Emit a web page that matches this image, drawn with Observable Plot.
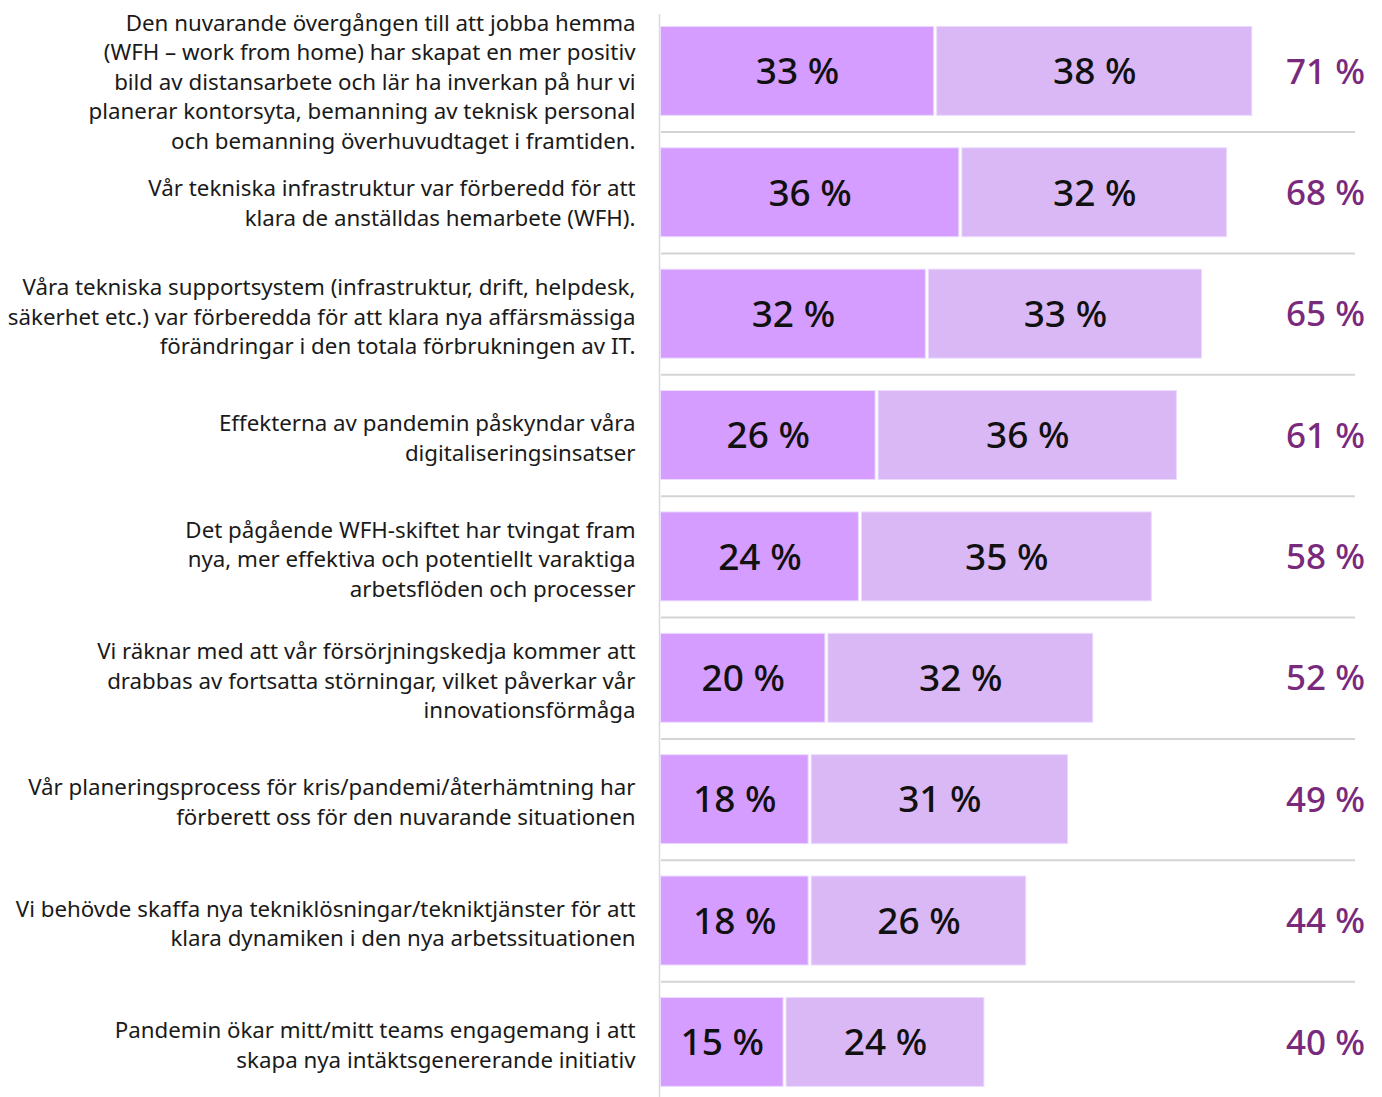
<!DOCTYPE html>
<html>
<head>
<meta charset="utf-8">
<script src="https://cdn.jsdelivr.net/npm/d3@7"></script>
<script src="https://cdn.jsdelivr.net/npm/@observablehq/plot@0.6"></script>
<style>
  html, body { margin: 0; padding: 0; background: #fff; }
  #chart svg { display: block; }
</style>
</head>
<body>
<div id="chart"></div>
<script>
const categories = [
  "Den nuvarande övergången till att jobba hemma\n(WFH – work from home) har skapat en mer positiv\nbild av distansarbete och lär ha inverkan på hur vi\nplanerar kontorsyta, bemanning av teknisk personal\noch bemanning överhuvudtaget i framtiden.",
  "Vår tekniska infrastruktur var förberedd för att\nklara de anställdas hemarbete (WFH).",
  "Våra tekniska supportsystem (infrastruktur, drift, helpdesk,\nsäkerhet etc.) var förberedda för att klara nya affärsmässiga\nförändringar i den totala förbrukningen av IT.",
  "Effekterna av pandemin påskyndar våra\ndigitaliseringsinsatser",
  "Det pågående WFH-skiftet har tvingat fram\nnya, mer effektiva och potentiellt varaktiga\narbetsflöden och processer",
  "Vi räknar med att vår försörjningskedja kommer att\ndrabbas av fortsatta störningar, vilket påverkar vår\ninnovationsförmåga",
  "Vår planeringsprocess för kris/pandemi/återhämtning har\nförberett oss för den nuvarande situationen",
  "Vi behövde skaffa nya tekniklösningar/tekniktjänster för att\nklara dynamiken i den nya arbetssituationen",
  "Pandemin ökar mitt/mitt teams engagemang i att\nskapa nya intäktsgenererande initiativ"
];
const seriesNames = ["Instämmer helt", "Instämmer delvis"];
const firstValues = [33, 36, 32, 26, 24, 20, 18, 18, 15];
const secondValues = [38, 32, 33, 36, 35, 32, 31, 26, 24];
const totals = [71, 68, 65, 61, 58, 52, 49, 44, 40];

const colors = ["#D59DFF", "#DAB8F5"];

const segments = [];
categories.forEach((c, i) => {
  segments.push({cat: c, series: seriesNames[0], value: firstValues[i]});
  segments.push({cat: c, series: seriesNames[1], value: secondValues[i]});
});
const rows = categories.map((c, i) => ({cat: c, total: totals[i], idx: i}));

const W = 1382, H = 1097;
const font = "'Noto Sans', 'Open Sans', sans-serif";
const labelStyle = {
  y: "cat", text: "cat", frameAnchor: "left", dx: -24,
  textAnchor: "end", lineAnchor: "middle", lineHeight: 1.32,
  fill: "#1a1a1a", fontSize: 22.3
};

const plot = Plot.plot({
  width: W,
  height: H,
  marginLeft: 659,
  marginRight: 0,
  marginTop: 14,
  marginBottom: 0,
  style: {fontFamily: font, background: "#fff"},
  x: {domain: [0, (W - 659) / 8.37], axis: null},
  y: {domain: categories, range: [10.2, 1102.6], paddingInner: 0.267, paddingOuter: 0.1335, round: false, axis: null},
  color: {domain: seriesNames, range: colors},
  marks: [
    Plot.ruleX([0], {stroke: "#d9d9d9", strokeWidth: 1.5}),
    Plot.ruleY(categories.slice(0, categories.length - 1), {
      y: d => d, dy: 60.7, stroke: "#d4d4d4", strokeWidth: 2, insetLeft: 2, insetRight: 27
    }),
    Plot.barX(segments, Plot.stackX({
      x: "value", y: "cat", fill: "series", insetLeft: 1.5, insetRight: 1.5,
      stroke: "#ecdcff", strokeWidth: 1, order: null
    })),
    Plot.text(segments, Plot.stackX({
      x: "value", y: "cat", text: d => `${d.value} %`, order: null,
      fill: "#111", fontSize: 37, fontWeight: 500, dy: 1
    })),
    Plot.text(rows, {
      y: "cat", text: d => `${d.total} %`, frameAnchor: "right", dx: -57,
      textAnchor: "middle", fill: "#7A2A7D", fontSize: 35, fontWeight: 500, dy: 1
    }),
    Plot.text(rows.filter(d => d.idx < 2), {...labelStyle, dy: 9}),
    Plot.text(rows.filter(d => d.idx >= 2), {...labelStyle, dy: 1})
  ]
});
document.getElementById("chart").appendChild(plot);
</script>
</body>
</html>
